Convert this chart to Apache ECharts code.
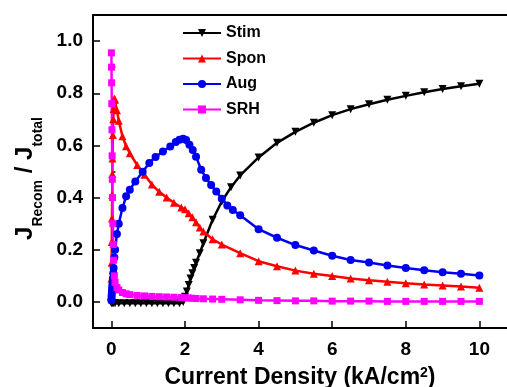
<!DOCTYPE html>
<html>
<head>
<meta charset="utf-8">
<script src="https://cdn.jsdelivr.net/npm/echarts@6/dist/echarts.min.js"></script>
<style>
  html, body { margin: 0; padding: 0; background: #fff; }
  #chart { width: 507px; height: 387px; }
</style>
</head>
<body>
<div id="chart"></div>
<script>
// values
const stimX = [0, 0.02, 0.05, 0.1, 0.2, 0.35, 0.5, 0.65, 0.8, 0.95, 1.1, 1.25, 1.4, 1.55, 1.7, 1.85,
  1.95, 2.0, 2.05, 2.1, 2.15, 2.2, 2.25, 2.3, 2.4, 2.5, 2.75, 3.0, 3.25, 3.5,
  4, 4.5, 5, 5.5, 6, 6.5, 7, 7.5, 8, 8.5, 9, 9.5, 10];
const stimY = [-0.005, -0.005, -0.005, -0.005, -0.005, -0.005, -0.005, -0.005, -0.005, -0.005, -0.005, -0.005, -0.005, -0.005, -0.005, -0.005,
  0.0, 0.02, 0.04, 0.065, 0.09, 0.11, 0.13, 0.15, 0.187, 0.225, 0.315, 0.385, 0.44, 0.485,
  0.554, 0.61, 0.652, 0.687, 0.716, 0.739, 0.758, 0.775, 0.79, 0.804, 0.816, 0.827, 0.836];

const sponX = [0, 0.003, 0.006, 0.01, 0.015, 0.02, 0.025, 0.03, 0.04, 0.05,
  0.06, 0.08, 0.1, 0.15, 0.2, 0.3, 0.4, 0.5, 0.7, 0.9,
  1.1, 1.3, 1.5, 1.7, 1.9, 2.0, 2.1, 2.2, 2.3, 2.4,
  2.5, 2.75, 3.0,
  3.5, 4, 4.5, 5, 5.5, 6, 6.5, 7, 7.5, 8, 8.5, 9, 9.5, 10];
const sponY = [0.04, 0.09, 0.15, 0.23, 0.32, 0.41, 0.49, 0.55, 0.64, 0.7,
  0.74, 0.78, 0.775, 0.735, 0.695, 0.635, 0.597, 0.57, 0.525, 0.488,
  0.45, 0.422, 0.4, 0.38, 0.362, 0.355, 0.34, 0.325, 0.305, 0.285,
  0.27, 0.24, 0.22,
  0.187, 0.156, 0.137, 0.12, 0.108, 0.099, 0.09, 0.083, 0.077, 0.072, 0.067, 0.063, 0.059, 0.054];

const augX = [0, 0.003, 0.006, 0.01, 0.015, 0.02, 0.025, 0.03, 0.04, 0.05,
  0.06, 0.08, 0.1, 0.15, 0.2, 0.3, 0.4, 0.5, 0.65, 0.85,
  1.03, 1.2, 1.4, 1.6, 1.75, 1.85, 1.95, 2.03, 2.12, 2.21,
  2.3, 2.44, 2.57, 2.71, 2.85, 3.0, 3.15, 3.3, 3.5,
  4, 4.5, 5, 5.5, 6, 6.5, 7, 7.5, 8, 8.5, 9, 9.5, 10];
const augY = [0.005, 0.01, 0.02, 0.03, 0.04, 0.05, 0.06, 0.07, 0.09, 0.11,
  0.13, 0.17, 0.2, 0.26, 0.3, 0.36, 0.405, 0.43, 0.462, 0.499,
  0.533, 0.556, 0.577, 0.596, 0.613, 0.622, 0.626, 0.621, 0.603, 0.582,
  0.557, 0.507, 0.475, 0.448, 0.423, 0.396, 0.37, 0.352, 0.332,
  0.279, 0.246, 0.218, 0.197, 0.177, 0.161, 0.151, 0.14, 0.13, 0.121, 0.114, 0.108, 0.101];

const srhX = [0, 0.003, 0.006, 0.01, 0.015, 0.02, 0.025, 0.03, 0.04, 0.05,
  0.06, 0.08, 0.1, 0.15, 0.2, 0.3, 0.4, 0.5, 0.7, 0.9,
  1.1, 1.3, 1.5, 1.7, 1.9, 2.0, 2.1, 2.2, 2.3, 2.5,
  2.75, 3.0,
  3.5, 4, 4.5, 5, 5.5, 6, 6.5, 7, 7.5, 8, 8.5, 9, 9.5, 10];
const srhY = [0.955, 0.9, 0.84, 0.76, 0.66, 0.56, 0.47, 0.4, 0.3, 0.22,
  0.16, 0.1, 0.075, 0.055, 0.046, 0.036, 0.031, 0.028, 0.025, 0.023,
  0.021, 0.02, 0.019, 0.018, 0.017, 0.016, 0.015, 0.014, 0.013, 0.012,
  0.011, 0.01,
  0.008, 0.006, 0.005, 0.004, 0.004, 0.003, 0.003, 0.003, 0.002, 0.002, 0.002, 0.002, 0.002, 0.002];

const xMajor = [0, 2, 4, 6, 8, 10];
const xMinor = [1, 3, 5, 7, 9];
const yMajor = [0, 0.2, 0.4, 0.6, 0.8, 1.0];
const yMinor = [0.1, 0.3, 0.5, 0.7, 0.9];

const pairs = (xs, ys) => xs.map((x, i) => [x, ys[i]]);

const FONT = 'Liberation Sans';
const gridBox = { left: 93, right: 0, top: 15, bottom: 59, containLabel: false, outerBoundsMode: 'none' };
const xRange = { min: -0.5, max: 10.75 };
const yRange = { min: -0.1, max: 1.1 };

const chart = echarts.init(document.getElementById('chart'));

const line = (name, data, color, symbol, size, rotate) => ({
  name,
  type: 'line',
  data,
  xAxisIndex: 0,
  yAxisIndex: 0,
  symbol,
  symbolSize: size,
  symbolRotate: rotate || 0,
  showAllSymbol: true,
  animation: false,
  lineStyle: { color, width: 2.5 },
  itemStyle: { color, borderWidth: 0 },
});

chart.setOption({
  backgroundColor: '#fff',
  animation: false,
  grid: [
    Object.assign({}, gridBox),
    Object.assign({}, gridBox),
  ],
  legend: {
    orient: 'vertical',
    left: 177,
    top: 20,
    itemWidth: 38,
    itemHeight: 10,
    itemGap: 9.5,
    textStyle: { fontFamily: FONT, fontWeight: 'bold', fontSize: 16, color: '#000', lineHeight: 16 },
    data: ['Stim', 'Spon', 'Aug', 'SRH'],
  },
  xAxis: [
    {
      type: 'value', gridIndex: 0, position: 'bottom',
      min: xRange.min, max: xRange.max,
      name: 'Current Density (kA/cm{sup|2})',
      nameLocation: 'middle',
      nameGap: 38,
      nameTextStyle: {
        fontFamily: FONT, fontWeight: 'bold', fontSize: 23, color: '#000',
        rich: { sup: { fontFamily: FONT, fontWeight: 'bold', fontSize: 14, color: '#000', verticalAlign: 'top', lineHeight: 24 } },
      },
      axisLine: { show: true, onZero: false, lineStyle: { color: '#000', width: 2 } },
      axisTick: { show: true, inside: true, length: 7, customValues: xMajor, lineStyle: { color: '#000', width: 1.5 } },
      axisLabel: { customValues: xMajor, margin: 12, fontFamily: FONT, fontWeight: 'bold', fontSize: 19, color: '#000' },
      splitLine: { show: false },
    },
    {
      type: 'value', gridIndex: 0, position: 'top',
      min: xRange.min, max: xRange.max,
      axisLine: { show: true, onZero: false, lineStyle: { color: '#000', width: 2 } },
      axisTick: { show: false },
      axisLabel: { show: false },
      splitLine: { show: false },
    },
    {
      type: 'value', gridIndex: 1, position: 'bottom',
      min: xRange.min, max: xRange.max,
      axisLine: { show: false },
      axisTick: { show: true, inside: true, length: 4, customValues: xMinor, lineStyle: { color: '#000', width: 1.5 } },
      axisLabel: { show: false },
      splitLine: { show: false },
    },
  ],
  yAxis: [
    {
      type: 'value', gridIndex: 0, position: 'left',
      min: yRange.min, max: yRange.max,
      name: '{big|J}{sub|Recom}{big| / J}{sub|total}',
      nameLocation: 'middle',
      nameGap: 52,
      nameRotate: 90,
      nameTextStyle: {
        padding: [0, 14, 0, 0],
        rich: {
          big: { fontFamily: FONT, fontWeight: 'bold', fontSize: 24, color: '#000', lineHeight: 28, verticalAlign: 'top' },
          sub: { fontFamily: FONT, fontWeight: 'bold', fontSize: 14, color: '#000', lineHeight: 14, verticalAlign: 'bottom', padding: [0, 0, -4, 0] },
        },
      },
      axisLine: { show: true, onZero: false, lineStyle: { color: '#000', width: 2 } },
      axisTick: { show: true, inside: true, length: 7, customValues: yMajor, lineStyle: { color: '#000', width: 1.5 } },
      axisLabel: {
        customValues: yMajor, margin: 10,
        fontFamily: FONT, fontWeight: 'bold', fontSize: 19, color: '#000',
        formatter: (v) => v.toFixed(1),
      },
      splitLine: { show: false },
    },
    {
      type: 'value', gridIndex: 1, position: 'left',
      min: yRange.min, max: yRange.max,
      axisLine: { show: false },
      axisTick: { show: true, inside: true, length: 4, customValues: yMinor, lineStyle: { color: '#000', width: 1.5 } },
      axisLabel: { show: false },
      splitLine: { show: false },
    },
  ],
  series: [
    line('Stim', pairs(stimX, stimY), '#000000', 'triangle', 8, 180),
    line('Spon', pairs(sponX, sponY), '#ff0000', 'triangle', 8),
    line('Aug', pairs(augX, augY), '#0000ee', 'circle', 8),
    line('SRH', pairs(srhX, srhY), '#ff00ff', 'rect', 7),
  ],
});
</script>
</body>
</html>
